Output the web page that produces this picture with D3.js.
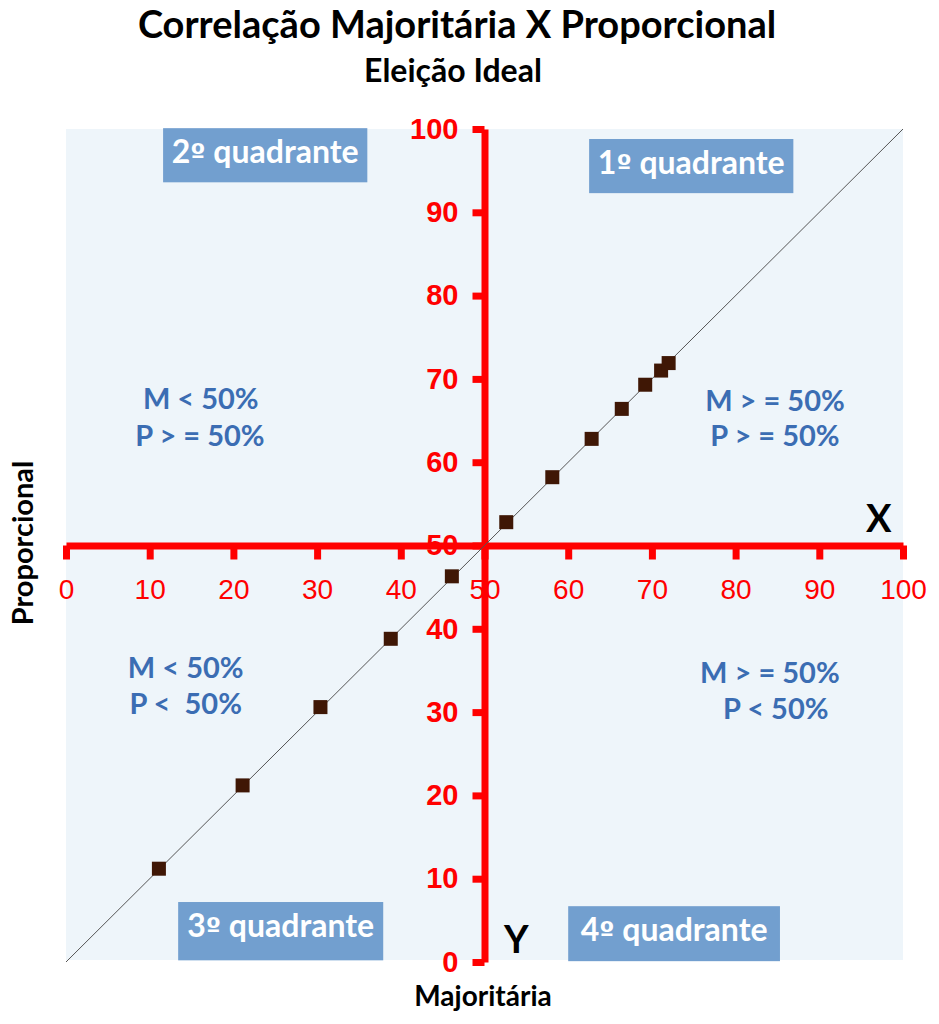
<!DOCTYPE html>
<html>
<head>
<meta charset="utf-8">
<script src="https://cdn.jsdelivr.net/npm/d3@7"></script>
<style>
  body { margin: 0; background: #ffffff; }
  text { font-family: Lato, "Open Sans", sans-serif; font-weight: bold; }
</style>
</head>
<body>
<svg id="chart" width="939" height="1024"></svg>
<script>
// values (Majoritária = x, Proporcional = y)
const majoritaria  = [11.1, 21.1, 30.4, 38.8, 46.1, 52.6, 58.1, 62.8, 66.4, 69.2, 71.1, 72.0];
const proporcional = [11.2, 21.2, 30.6, 38.8, 46.3, 52.8, 58.2, 62.8, 66.4, 69.3, 71.0, 71.9];

const xTicks = [0, 10, 20, 30, 40, 50, 60, 70, 80, 90, 100];
const yTicks = [0, 10, 20, 30, 40, 50, 60, 70, 80, 90, 100];

// quadrant boxes: number, x range, y range (data units)
const quadrantNumbers = ["1", "2", "3", "4"];
const quadrantX = [[62.5, 86.9], [11.6, 36.0], [13.4, 37.9], [60.0, 85.3]];
const quadrantY = [[98.8, 92.3], [100.1, 93.6], [7.2, 0.2], [6.7, 0.1]];

// condition texts per quadrant: two lines, centre x, baseline y (data units)
const conditionLines = [
  ["M > = 50%", "P > = 50%"],
  ["M < 50%", "P > = 50%"],
  ["M < 50%", "P <  50%"],
  ["M > = 50%", "P < 50%"]
];
const conditionX = [[84.7, 84.7], [16.1, 16.0], [14.3, 14.3], [84.1, 84.8]];
const conditionY = [[66.2, 61.9], [66.4, 62.0], [34.1, 29.8], [33.5, 29.2]];

translate = function(a, b) {
  return "translate(" + a + ", " + b + ")";
}

const svg = d3.select("#chart");

const x = d3.scaleLinear().domain([0, 100]).range([66, 903]);
const y = d3.scaleLinear().domain([0, 100]).range([962, 129]);

// plot background
svg.append("rect")
  .attr("x", x(0))
  .attr("y", y(100))
  .attr("width", x(100) - x(0))
  .attr("height", y(0) - y(100) - 2)
  .attr("fill", "#eef5fa");

// titles
svg.append("text")
  .attr("x", 457).attr("y", 38)
  .attr("text-anchor", "middle")
  .style("font-size", "38px")
  .text("Correlação Majoritária X Proporcional");

svg.append("text")
  .attr("x", 453).attr("y", 82)
  .attr("text-anchor", "middle")
  .style("font-size", "32px")
  .text("Eleição Ideal");

// quadrant boxes
let boxes = svg.selectAll("g.quadrant")
  .data(quadrantNumbers)
  .enter()
  .append("g")
  .attr("class", "quadrant");

boxes.append("rect")
  .attr("x", (d, i) => x(quadrantX[i][0]))
  .attr("y", (d, i) => y(quadrantY[i][0]))
  .attr("width", (d, i) => x(quadrantX[i][1]) - x(quadrantX[i][0]))
  .attr("height", (d, i) => y(quadrantY[i][1]) - y(quadrantY[i][0]))
  .attr("fill", "#729fcf");

let boxText = boxes.append("text")
  .attr("x", (d, i) => (x(quadrantX[i][0]) + x(quadrantX[i][1])) / 2)
  .attr("y", (d, i) => y(quadrantY[i][0]) + 35)
  .attr("text-anchor", "middle")
  .attr("fill", "#ffffff")
  .style("font-size", "32px");

boxText.append("tspan").text(d => d);
// ordinal sign with its underline, as in the reference font
boxText.append("tspan")
  .style("font-family", "'DejaVu Sans', sans-serif")
  .style("font-size", "27px")
  .text("º");
boxText.append("tspan").text(" quadrante");

// condition texts
conditionLines.forEach(function(lines, i) {
  lines.forEach(function(t, j) {
    svg.append("text")
      .attr("x", x(conditionX[i][j]))
      .attr("y", y(conditionY[i][j]))
      .attr("text-anchor", "middle")
      .attr("fill", "#3b6db3")
      .style("font-size", "29px")
      .style("white-space", "pre")
      .attr("xml:space", "preserve")
      .text(t);
  });
});

// x axis through y = 50
let xAxis = d3.axisBottom(x).tickValues(xTicks).tickSize(14).tickSizeOuter(0).tickPadding(20);
let xGroup = svg.append("g").attr("transform", translate(0, y(50))).call(xAxis);
xGroup.select(".domain").attr("stroke", "#ff0000").attr("stroke-width", 7);
xGroup.selectAll(".tick line").attr("stroke", "#ff0000").attr("stroke-width", 7);
xGroup.selectAll(".tick text")
  .attr("fill", "#ff0000")
  .style("font-family", "'Liberation Sans', Arial, sans-serif")
  .style("font-weight", "normal")
  .style("font-size", "28px");

// y axis through x = 50
let yAxis = d3.axisLeft(y).tickValues(yTicks).tickSize(12).tickSizeOuter(0).tickPadding(14);
let yGroup = svg.append("g").attr("transform", translate(x(50), 0)).call(yAxis);
yGroup.select(".domain").attr("stroke", "#ff0000").attr("stroke-width", 7);
yGroup.selectAll(".tick line").attr("stroke", "#ff0000").attr("stroke-width", 7);
yGroup.selectAll(".tick text")
  .attr("fill", "#ff0000")
  .style("font-family", "'Liberation Sans', Arial, sans-serif")
  .style("font-weight", "bold")
  .style("font-size", "29px");

// ideal line y = x
svg.append("path")
  .datum([0, 100])
  .attr("d", d3.line().x(d => x(d)).y(d => y(d)))
  .attr("stroke", "#555555")
  .attr("stroke-width", 1)
  .attr("fill", "none");

// points
const size = 14;
svg.selectAll("rect.point")
  .data(majoritaria)
  .enter()
  .append("rect")
  .attr("class", "point")
  .attr("x", d => x(d) - size / 2)
  .attr("y", (d, i) => y(proporcional[i]) - size / 2)
  .attr("width", size)
  .attr("height", size)
  .attr("fill", "#3f1705");

// axis letters
svg.append("text")
  .attr("x", x(97.1)).attr("y", y(51.6))
  .attr("text-anchor", "middle")
  .style("font-size", "38px")
  .text("X");

svg.append("text")
  .attr("x", x(53.8)).attr("y", y(1.1))
  .attr("text-anchor", "middle")
  .style("font-size", "38px")
  .text("Y");

// axis titles
svg.append("text")
  .attr("x", 483).attr("y", 1006)
  .attr("text-anchor", "middle")
  .style("font-size", "28px")
  .text("Majoritária");

svg.append("text")
  .attr("transform", translate(33, 543) + " rotate(-90)")
  .attr("text-anchor", "middle")
  .style("font-size", "29px")
  .text("Proporcional");
</script>
</body>
</html>
